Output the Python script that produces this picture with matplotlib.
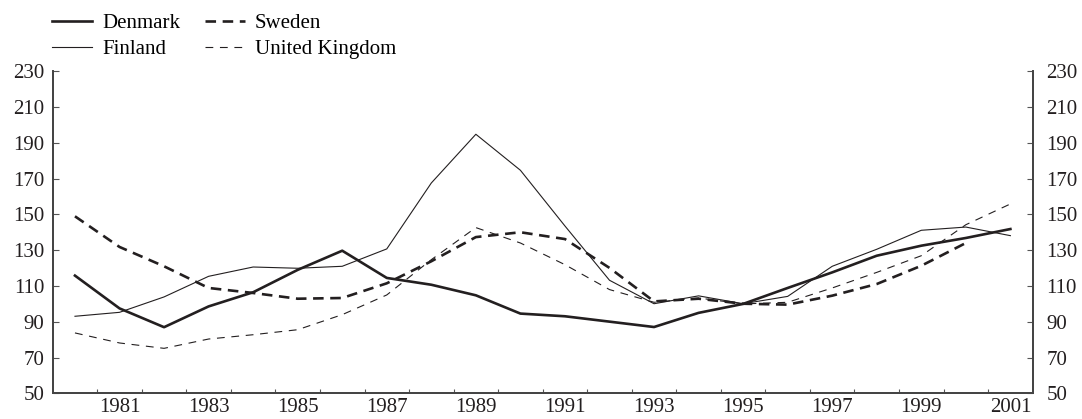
#!/usr/bin/env python3
"""
Index of four countries, 1980-2001 (1995 = 100), line chart with left and right axes.
"""

import matplotlib
matplotlib.use('Agg')
import matplotlib.pyplot as plt
from matplotlib.ticker import FixedLocator

# Data
years = list(range(1980, 2002))
denmark = [115.8, 97.5, 87.0, 98.6, 106.5, 119.0, 129.7, 114.5, 110.7, 104.8, 94.6,
           93.1, 90.1, 87.1, 95.0, 100.0, 108.9, 117.6, 126.9, 132.5, 136.8, 141.8]
finland = [93.1, 95.3, 103.9, 115.4, 120.6, 119.9, 121.0, 130.7, 167.5, 194.7, 174.6,
           143.5, 113.2, 100.1, 104.5, 100.1, 104.2, 121.0, 130.5, 141.1, 142.9, 138.1]
sweden_years = list(range(1980, 2001))
sweden = [148.9, 131.8, 121.0, 108.9, 106.1, 102.9, 103.3, 111.5, 123.8, 137.3, 140.0,
          136.2, 120.1, 101.4, 102.9, 100.1, 99.6, 104.6, 111.1, 121.3, 134.0]
uk = [83.8, 78.2, 75.2, 80.4, 82.8, 85.6, 94.0, 105.0, 124.7, 142.6, 134.0,
      121.9, 108.0, 100.9, 103.3, 100.0, 100.9, 108.9, 117.6, 126.9, 144.2, 155.8]

year_labels = list(range(1981, 2002, 2))
y_ticks = list(range(50, 231, 20))

ink = '#231f20'
plt.rcParams['font.family'] = ['Liberation Serif', 'DejaVu Serif']
plt.rcParams['font.size'] = 15

fig = plt.figure(figsize=(10.82, 4.19), dpi=100)
ax = fig.add_axes([0.0487, 0.0609, 0.9057, 0.7696])

ax.plot(years, denmark, color=ink, linewidth=1.9, label='Denmark')
ax.plot(years, finland, color=ink, linewidth=0.8, label='Finland')
ax.plot(sweden_years, sweden, color=ink, linewidth=1.9, dashes=(4, 2.5), label='Sweden')
ax.plot(years, uk, color=ink, linewidth=0.8, dashes=(7, 6), label='United Kingdom')

ax.set_xlim(1979.5, 2001.5)
ax.set_ylim(50, 230)

# year labels sit in the middle of each year, ticks mark the year boundaries
ax.set_xticks(year_labels)
ax.xaxis.set_minor_locator(FixedLocator([y + 0.5 for y in range(1980, 2001)]))
ax.tick_params(axis='x', which='major', length=0, pad=3, labelcolor=ink)
ax.tick_params(axis='x', which='minor', direction='in', length=3, width=0.8, color='#555555')

# left axis
ax.set_yticks(y_ticks)
ax.tick_params(axis='y', direction='in', length=4.5, width=0.8, color='#555555',
               labelcolor=ink, pad=6)

# right axis, same scale
ax_r = ax.twinx()
ax_r.set_ylim(ax.get_ylim())
ax_r.set_yticks(y_ticks)
ax_r.tick_params(axis='y', direction='in', length=4.5, width=0.8, color='#555555',
                 labelcolor=ink, pad=10)

for a in (ax, ax_r):
    a.spines['top'].set_visible(False)
    for side in ['left', 'right', 'bottom']:
        a.spines[side].set_color('#444444')
        a.spines[side].set_linewidth(1.3)

fig.legend(*ax.get_legend_handles_labels(), loc='upper left',
           bbox_to_anchor=(0.048, 0.967), ncol=2, frameon=False,
           borderpad=0, borderaxespad=0, handlelength=1.9, handletextpad=0.5,
           columnspacing=1.2, labelspacing=0.3, fontsize=15)

fig.savefig('out.png', dpi=100)
